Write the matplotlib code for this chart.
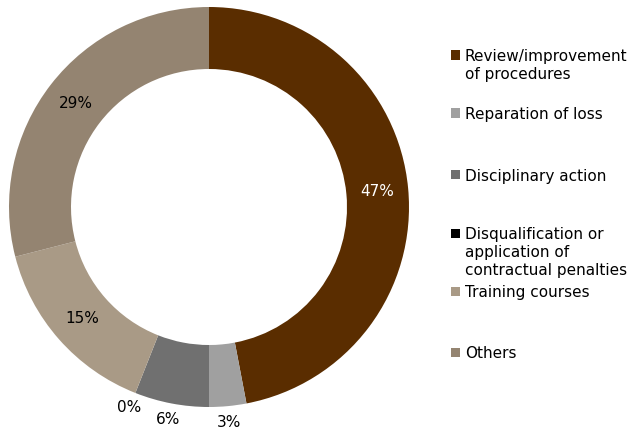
import numpy as np
import matplotlib.pyplot as plt
from matplotlib.patches import Rectangle

categories = ["Review/improvement\nof procedures", "Reparation of loss", "Disciplinary action",
              "Disqualification or\napplication of\ncontractual penalties", "Training courses", "Others"]
shares = [47, 3, 6, 0, 15, 29]
colors = ["#5A2D00", "#A0A0A0", "#707070", "#000000", "#A99A86", "#948471"]

W, H = 635, 432
fig = plt.figure(figsize=(W / 100, H / 100), dpi=100)

# donut centred at (209, 207) px with an outer radius of 200 px
cx, cy, R = 209, 207, 200
ax = fig.add_axes([(cx - R) / W, (H - cy - R) / H, 2 * R / W, 2 * R / H])

wedges, _ = ax.pie(shares, colors=colors, startangle=90, counterclock=False, radius=1,
                   wedgeprops=dict(width=0.31, linewidth=0))
ax.set_xlim(-1, 1)
ax.set_ylim(-1, 1)
ax.set_aspect("equal")
ax.axis("off")

for w, v in zip(wedges, shares):
    ang = np.deg2rad((w.theta1 + w.theta2) / 2)
    if v >= 10:
        r = 0.845
        col = "white" if w.get_facecolor()[0] < 0.5 else "black"
    else:
        r = 1.08
        col = "black"
    ax.text(r * np.cos(ang), r * np.sin(ang), "%d%%" % v, ha="center", va="center",
            fontsize=11, color=col, clip_on=False)

# legend, drawn by hand to keep the uneven spacing
leg_y = [55, 113, 174.5, 233, 291, 352.5]
for name, col, y in zip(categories, colors, leg_y):
    fig.patches.append(Rectangle((451 / W, (H - y - 4.5) / H), 9 / W, 9 / H,
                                 transform=fig.transFigure, facecolor=col, edgecolor="none"))
    fig.text(465 / W, (H - y + 6) / H, name, ha="left", va="top", fontsize=11,
             linespacing=1.25)

fig.savefig("out.png", dpi=100)
